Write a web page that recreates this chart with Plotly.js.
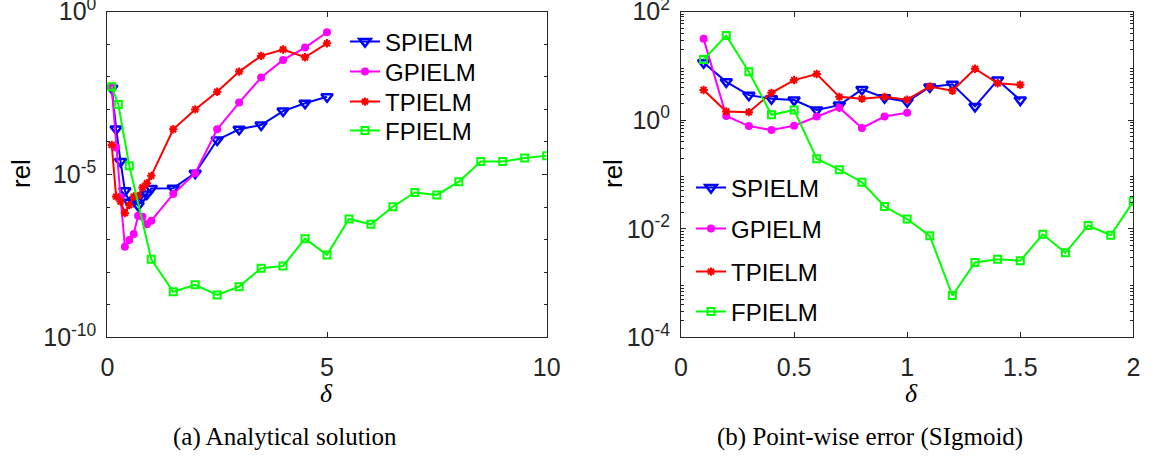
<!DOCTYPE html>
<html>
<head>
<meta charset="utf-8">
<script src="https://cdn.plot.ly/plotly-3.0.1.min.js"></script>
<style>html,body{margin:0;padding:0;background:#fff;}#chart{width:1158px;height:457px;}</style>
</head>
<body>
<div id="chart"></div>
<script>
// ---------- data: (a) Analytical solution ----------
const deltaA = [0.1,0.2,0.3,0.4,0.5,0.6,0.7,0.8,0.9,1,1.5,2,2.5,3,3.5,4,4.5,5];
const spielmA = [4.47e-3,2.51e-4,2.51e-5,3.16e-6,1.41e-6,1.58e-6,1.12e-6,2.0e-6,2.51e-6,3.72e-6,3.8e-6,1.1e-5,1.15e-4,2.45e-4,3.3e-4,8.9e-4,1.55e-3,2.45e-3];
const gpielmA = [4.8e-3,6.8e-5,2.0e-6,6.0e-8,9.8e-8,1.48e-7,5.4e-7,5.0e-7,2.95e-7,3.8e-7,2.5e-6,1.1e-5,2.45e-4,1.62e-3,9.5e-3,3.3e-2,7.9e-2,0.234];
const tpielmA = [8.1e-5,2.1e-6,1.48e-6,6.5e-7,1.15e-6,2.1e-6,2.2e-6,4.0e-6,5.4e-6,9.1e-6,2.45e-4,1.0e-3,3.5e-3,1.45e-2,4.4e-2,6.9e-2,4.0e-2,0.107];
const deltaAF = [0.1,0.25,0.5,1,1.5,2,2.5,3,3.5,4,4.5,5,5.5,6,6.5,7,7.5,8,8.5,9,9.5,10];
const fpielmA = [5.0e-3,1.41e-3,1.86e-5,2.5e-8,2.5e-9,4.1e-9,2.0e-9,3.6e-9,1.32e-8,1.55e-8,1.07e-7,3.4e-8,4.3e-7,2.95e-7,1.02e-6,2.8e-6,2.35e-6,6.0e-6,2.5e-5,2.5e-5,3.2e-5,3.8e-5];

// ---------- data: (b) Point-wise error (SIgmoid) ----------
const deltaB15 = [0.1,0.2,0.3,0.4,0.5,0.6,0.7,0.8,0.9,1.0,1.1,1.2,1.3,1.4,1.5];
const deltaB10 = [0.1,0.2,0.3,0.4,0.5,0.6,0.7,0.8,0.9,1.0];
const deltaB20 = [0.1,0.2,0.3,0.4,0.5,0.6,0.7,0.8,0.9,1.0,1.1,1.2,1.3,1.4,1.5,1.6,1.7,1.8,1.9,2.0];
const spielmB = [11.5,5.1,2.9,2.5,2.35,1.55,1.9,3.7,2.6,2.2,4.1,4.6,1.8,5.5,2.35];
const gpielmB = [31.6,1.2,0.78,0.66,0.79,1.17,1.7,0.72,1.17,1.38];
const tpielmB = [3.6,1.45,1.41,3.2,5.5,7.1,2.7,2.5,2.7,2.4,4.2,3.5,8.9,4.8,4.5];
const fpielmB = [13.2,36.3,7.8,1.26,1.55,0.195,0.123,0.072,0.0257,0.0151,0.0074,5.9e-4,2.4e-3,2.75e-3,2.57e-3,7.9e-3,3.6e-3,1.15e-2,7.6e-3,3.2e-2];

const names = ['SPIELM','GPIELM','TPIELM','FPIELM'];
const xTicksA = [0,5,10];
const xTicksB = [0,0.5,1,1.5,2];
const yTicksA = [1,1e-5,1e-10];
const yTextA = ['10<sup>0</sup>','10<sup>-5</sup>','10<sup>-10</sup>'];
const yTicksB = [100,1,1e-2,1e-4];
const yTextB = ['10<sup>2</sup>','10<sup>0</sup>','10<sup>-2</sup>','10<sup>-4</sup>'];

// ---------- styles ----------
const colors = ['#0000FF','#FF00FF','#FF0000','#00FF00'];
const markers = [
  {symbol:'triangle-down-open', size:10, line:{width:2.5}},
  {symbol:'circle', size:8},
  {symbol:'asterisk-open', size:7, line:{width:2}},
  {symbol:'square-open', size:7, line:{width:2}}
];
function tr(x, y, i, xa, ya, leg) {
  const m = Object.assign({color: colors[i]}, markers[i]);
  if (m.line) m.line = Object.assign({color: colors[i]}, m.line);
  return {x:x, y:y, name:names[i], type:'scatter', mode:'lines+markers',
    xaxis:xa, yaxis:ya, legend:leg,
    line:{color:colors[i], width:2}, marker:m};
}
const data = [
  tr(deltaA, spielmA, 0, 'x', 'y', 'legend'),
  tr(deltaA, gpielmA, 1, 'x', 'y', 'legend2'),
  tr(deltaA, tpielmA, 2, 'x', 'y', 'legend3'),
  tr(deltaAF, fpielmA, 3, 'x', 'y', 'legend4'),
  tr(deltaB15, spielmB, 0, 'x2', 'y2', 'legend5'),
  tr(deltaB10, gpielmB, 1, 'x2', 'y2', 'legend6'),
  tr(deltaB15, tpielmB, 2, 'x2', 'y2', 'legend7'),
  tr(deltaB20, fpielmB, 3, 'x2', 'y2', 'legend8')
];

const axCol = '#262626';
const tickFont = {family:'Liberation Sans, Arial, sans-serif', size:25, color:axCol};
function decades(a, b) { const r=[]; for (let e=a; e<=b; e++) r.push(Math.pow(10,e)); return r; }
function logMinor(a, b) { const r=[]; for (let e=a; e<b; e++) for (let k=2;k<=9;k++) r.push(k*Math.pow(10,e)); return r; }
function xax(domain, range, ticks) {
  return {domain:domain, range:range, tickvals:ticks, ticktext:ticks.map(String), ticks:'inside', ticklen:5,
    tickcolor:axCol, mirror:'ticks', showline:true, linecolor:axCol, linewidth:1, showgrid:false, zeroline:false,
    tickfont:tickFont, ticklabelstandoff:8, ticklabeloverflow:'allow'};
}
function yax(range, tv, tt, minorVals, anchor) {
  return {type:'log', domain:[0.2619,0.9744], range:range, tickvals:tv, ticktext:tt, ticks:'inside', ticklen:5,
    tickcolor:axCol, mirror:'ticks', showline:true, linecolor:axCol, linewidth:1, showgrid:false, zeroline:false,
    tickfont:tickFont, anchor:anchor, ticklabelstandoff:5, ticklabeloverflow:'allow',
    minor:{tickvals:minorVals, ticks:'inside', ticklen:3, tickcolor:axCol, showgrid:false}};
}
const legFont = {family:'Liberation Sans, Arial, sans-serif', size:24, color:'#000'};
function leg(xpx, ypx) {
  return {x:xpx/1158, y:1-ypx/457, xanchor:'left', yanchor:'middle', bgcolor:'rgba(0,0,0,0)', borderwidth:0, font:legFont};
}
const capFont = {family:'Liberation Serif, serif', size:25, color:'#000'};
const deltaFont = {family:'Liberation Serif, serif', size:26, color:'#000'};
const relFont = {family:'Liberation Sans, Arial, sans-serif', size:26, color:'#000'};
function note(text, xpx, ypx, font, angle) {
  return {text:text, xref:'paper', yref:'paper', x:xpx/1158, y:1-ypx/457, xanchor:'center', yanchor:'middle',
    showarrow:false, font:font, textangle:angle||0};
}
const layout = {
  width:1158, height:457, margin:{l:0,r:0,t:0,b:0}, paper_bgcolor:'#fff', plot_bgcolor:'#fff',
  showlegend:true,
  xaxis: xax([0.0927,0.4721],[0,10],xTicksA),
  yaxis: yax([-10.0005,0.0005], yTicksA, yTextA, decades(-9,-1), 'x'),
  xaxis2: xax([0.5881,0.9787],[0,2],xTicksB),
  yaxis2: yax([-4.0005,2.0005], yTicksB, yTextB, logMinor(-4,2), 'x2'),
  legend: leg(345, 42), legend2: leg(345, 72), legend3: leg(345, 102), legend4: leg(345, 131),
  legend5: leg(691, 188), legend6: leg(691, 229), legend7: leg(691, 272), legend8: leg(691, 312),
  annotations:[
    note('<i>δ</i>', 326, 393, deltaFont),
    note('<i>δ</i>', 911, 393, deltaFont),
    note('rel', 21, 174, relFont, -90),
    note('rel', 613, 174, relFont, -90),
    note('(a) Analytical solution', 285, 437, capFont),
    note('(b) Point-wise error (SIgmoid)', 870, 437, capFont)
  ]
};
Plotly.newPlot('chart', data, layout, {staticPlot:true, displayModeBar:false});
</script>
</body>
</html>
